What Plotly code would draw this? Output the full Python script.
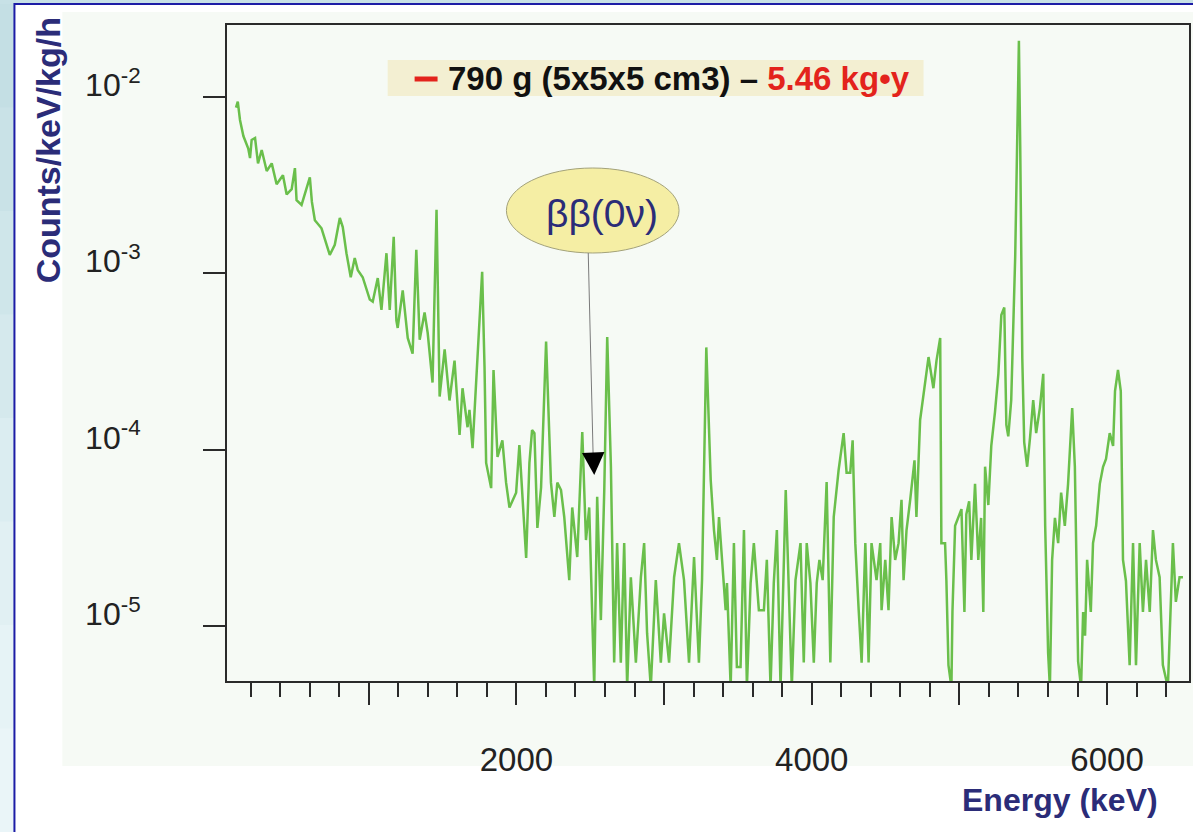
import plotly.graph_objects as go

# ---------------- data ----------------
energy_kev = [
    101, 113, 128, 151, 184, 196, 207, 230, 250, 275,
    309, 343, 376, 419, 444, 478, 500, 511, 545, 568,
    601, 615, 635, 680, 736, 770, 804, 824, 849, 878,
    905, 926, 959, 1007, 1027, 1061, 1086, 1120, 1142, 1169,
    1187, 1196, 1230, 1264, 1297, 1322, 1345, 1378, 1399, 1432,
    1459, 1480, 1514, 1547, 1581, 1615, 1635, 1669, 1682, 1703,
    1736, 1768, 1784, 1795, 1829, 1845, 1872, 1905, 1930, 1953,
    1998, 2020, 2066, 2088, 2106, 2122, 2142, 2167, 2201, 2234,
    2257, 2277, 2302, 2324, 2358, 2378, 2412, 2437, 2446, 2471,
    2493, 2527, 2547, 2572, 2595, 2615, 2640, 2662, 2682, 2707,
    2730, 2750, 2775, 2809, 2843, 2865, 2885, 2910, 2944, 2978,
    3000, 3034, 3068, 3101, 3135, 3169, 3203, 3236, 3257, 3286,
    3316, 3338, 3358, 3372, 3392, 3417, 3426, 3451, 3473, 3493,
    3518, 3541, 3561, 3586, 3608, 3642, 3676, 3696, 3721, 3743,
    3764, 3789, 3824, 3845, 3865, 3890, 3924, 3946, 3966, 3991,
    4014, 4034, 4052, 4074, 4101, 4126, 4149, 4182, 4216, 4236,
    4261, 4277, 4295, 4318, 4338, 4363, 4385, 4405, 4439, 4464,
    4473, 4498, 4520, 4541, 4565, 4588, 4608, 4622, 4642, 4667,
    4696, 4709, 4734, 4791, 4824, 4845, 4870, 4878, 4903, 4912,
    4926, 4946, 4953, 4971, 4993, 5014, 5034, 5047, 5066, 5081,
    5106, 5128, 5147, 5162, 5174, 5196, 5216, 5241, 5264, 5284,
    5304, 5318, 5331, 5351, 5378, 5392, 5403, 5412, 5426, 5439,
    5459, 5478, 5500, 5520, 5545, 5568, 5581, 5601, 5613, 5628,
    5647, 5669, 5689, 5714, 5736, 5764, 5782, 5804, 5824, 5838,
    5851, 5865, 5890, 5905, 5926, 5951, 5973, 5993, 6018, 6041,
    6054, 6074, 6093, 6108, 6128, 6153, 6176, 6196, 6221, 6243,
    6264, 6289, 6311, 6331, 6356, 6378, 6412, 6446, 6466, 6491,
    6514,
]

counts = [
    8.7e-3, 9.4e-3, 7.4e-3, 6.0e-3, 5.1e-3, 4.5e-3, 5.7e-3, 5.85e-3, 4.2e-3, 5.0e-3,
    3.8e-3, 4.2e-3, 3.2e-3, 3.6e-3, 2.8e-3, 3.0e-3, 3.95e-3, 2.6e-3, 2.44e-3, 2.85e-3,
    3.5e-3, 2.54e-3, 2.0e-3, 1.8e-3, 1.27e-3, 1.45e-3, 2.06e-3, 1.83e-3, 1.30e-3, 9.5e-4,
    1.22e-3, 1.04e-3, 9.5e-4, 7.1e-4, 6.9e-4, 9.4e-4, 6.2e-4, 1.30e-3, 6.2e-4, 1.61e-3,
    5.4e-4, 4.9e-4, 8.0e-4, 4.3e-4, 3.5e-4, 1.36e-3, 4.2e-4, 6.0e-4, 4.6e-4, 2.4e-4,
    2.29e-3, 2.0e-4, 3.7e-4, 1.9e-4, 3.2e-4, 1.21e-4, 2.23e-4, 1.34e-4, 1.68e-4, 1.02e-4,
    3.2e-4, 1.02e-3, 2.94e-4, 8.4e-5, 6.05e-5, 2.83e-4, 9.1e-5, 1.13e-4, 6.5e-5, 4.7e-5,
    5.7e-5, 1.06e-4, 2.43e-5, 8.4e-5, 1.29e-4, 1.24e-4, 3.6e-5, 6.1e-5, 4.1e-4, 6.5e-5,
    4.15e-5, 6.5e-5, 5.9e-5, 4.15e-5, 1.82e-5, 4.7e-5, 2.46e-5, 8.4e-5, 1.26e-4, 3.07e-5,
    4.7e-5, 4.5e-6, 5.4e-5, 1.08e-5, 5.9e-5, 4.35e-4, 8.0e-5, 6.2e-6, 2.95e-5, 6.2e-6,
    2.95e-5, 4.5e-6, 1.89e-5, 6.2e-6, 1.89e-5, 2.95e-5, 9.1e-6, 4.5e-6, 1.82e-5, 6.2e-6,
    1.18e-5, 6.2e-6, 1.89e-5, 2.95e-5, 1.82e-5, 6.2e-6, 2.46e-5, 6.2e-6, 1.82e-5, 3.8e-4,
    6.7e-5, 3.5e-5, 2.37e-5, 4.15e-5, 2.37e-5, 1.23e-5, 1.75e-5, 4.5e-6, 2.95e-5, 5.85e-6,
    5.85e-6, 3.5e-5, 4.5e-6, 1.75e-5, 2.95e-5, 1.23e-5, 1.23e-5, 2.37e-5, 4.5e-6, 1.75e-5,
    3.5e-5, 4.5e-6, 5.9e-5, 1.82e-5, 4.5e-6, 1.82e-5, 2.95e-5, 6.2e-6, 2.95e-5, 1.75e-5,
    6.2e-6, 1.75e-5, 2.37e-5, 1.82e-5, 6.55e-5, 6.2e-6, 4.15e-5, 7.65e-5, 1.24e-4, 7.4e-5,
    7.4e-5, 1.13e-4, 2.95e-5, 1.23e-5, 6.2e-6, 2.95e-5, 6.2e-6, 2.95e-5, 1.82e-5, 2.95e-5,
    1.23e-5, 2.37e-5, 1.23e-5, 4.15e-5, 2.37e-5, 2.95e-5, 5.2e-5, 1.82e-5, 3.5e-5, 5.2e-5,
    8.7e-5, 4.15e-5, 1.47e-4, 3.35e-4, 2.23e-4, 3.2e-4, 4.3e-4, 2.95e-5, 2.95e-5, 1.8e-5,
    6.0e-6, 4.5e-6, 1.2e-5, 3.7e-5, 4.1e-5, 4.6e-5, 1.2e-5, 4.3e-5, 5.1e-5, 2.37e-5,
    6.4e-5, 2.37e-5, 4.1e-5, 1.2e-5, 8.0e-5, 4.85e-5, 1.05e-4, 1.63e-4, 2.69e-4, 5.8e-4,
    6.4e-4, 1.38e-4, 1.19e-4, 1.91e-4, 1.25e-3, 8.1e-3, 2.08e-2, 5.2e-3, 3.3e-4, 1.10e-4,
    8.0e-5, 1.16e-4, 1.91e-4, 1.24e-4, 1.72e-4, 2.69e-4, 3.7e-5, 7.0e-6, 4.5e-6, 2.37e-5,
    4.1e-5, 2.95e-5, 5.7e-5, 3.7e-5, 6.4e-5, 1.72e-4, 8.0e-5, 6.3e-6, 4.5e-6, 1.2e-5,
    8.8e-6, 2.37e-5, 1.2e-5, 2.95e-5, 3.7e-5, 6.4e-5, 8.0e-5, 8.85e-5, 1.24e-4, 1.05e-4,
    2.15e-4, 2.83e-4, 2.15e-4, 2.37e-5, 1.8e-5, 6.0e-6, 2.95e-5, 6.0e-6, 2.95e-5, 1.2e-5,
    2.37e-5, 1.2e-5, 3.5e-5, 2.37e-5, 1.89e-5, 6.0e-6, 4.5e-6, 2.95e-5, 1.37e-5, 1.89e-5,
    1.89e-5,
]

x_tick_values = [1000, 2000, 3000, 4000, 5000, 6000]
x_tick_labels = ["", "2000", "", "4000", "", "6000"]
y_tick_values = [1e-5, 1e-4, 1e-3, 1e-2]
y_tick_labels = ["10<sup>-5</sup>", "10<sup>-4</sup>", "10<sup>-3</sup>", "10<sup>-2</sup>"]

legend_text = ("<b>790 g (5x5x5 cm3) \u2013 "
               "<span style='color:#e3231c'>5.46 kg\u2022y</span></b>")
peak_label = "\u03b2\u03b2(0\u03bd)"
x_title = "Energy (keV)"
y_title = "Counts/keV/kg/h"

# ---------------- figure ----------------
W, H = 1193, 832
ML, MR, MT, MB = 227, 2, 25, 151
PW, PH = W - ML - MR, H - MT - MB


def px(xpix):
    return (xpix - ML) / PW


def py(ypix):
    return (H - MB - ypix) / PH


FONT = "Liberation Sans, Arial, Helvetica, sans-serif"
NAVY = "#2b2c78"
AXC = "#2a2a2a"

fig = go.Figure(
    go.Scatter(
        x=energy_kev, y=counts, mode="lines",
        line=dict(color="#6abf4b", width=2.5),
        hoverinfo="skip", showlegend=False,
    )
)

shapes = []
# left strip gradient of the page background
strip_cols = ["#c4dfe4", "#c9e2e7", "#cfe6ea", "#d5e9ed", "#dbedf1", "#e1f0f3", "#e6f3f6", "#eaf5f8"]
n = len(strip_cols)
for i, c in enumerate(strip_cols):
    shapes.append(dict(type="rect", xref="paper", yref="paper",
                       x0=px(-5), x1=px(14), y0=py(4 + (H - 4) * (i + 1) / n + 1), y1=py(4 + (H - 4) * i / n),
                       fillcolor=c, line=dict(width=0), layer="below"))
# white panel with blue border
shapes.append(dict(type="rect", xref="paper", yref="paper",
                   x0=px(14), x1=px(W + 10), y0=py(H + 10), y1=py(4),
                   fillcolor="#ffffff", line=dict(color="#1c1ca6", width=2), layer="below"))
# light graph area
shapes.append(dict(type="rect", xref="paper", yref="paper",
                   x0=px(62), x1=px(W + 10), y0=py(766), y1=py(12),
                   fillcolor="#f6faf5", line=dict(width=0), layer="below"))
# legend box
shapes.append(dict(type="rect", xref="paper", yref="paper",
                   x0=px(388), x1=px(925), y0=py(96), y1=py(60),
                   fillcolor="#f3efd2", line=dict(width=0), layer="above"))
# legend line sample (red dash)
shapes.append(dict(type="line", xref="paper", yref="paper",
                   x0=px(415), x1=px(438), y0=py(79), y1=py(79),
                   line=dict(color="#e3231c", width=5), layer="above"))
# ellipse
shapes.append(dict(type="circle", xref="paper", yref="paper",
                   x0=px(507), x1=px(680), y0=py(253), y1=py(168),
                   fillcolor="#f5eea4", line=dict(color="#a3a27a", width=1), layer="above"))
# arrow shaft
shapes.append(dict(type="line", xref="paper", yref="paper",
                   x0=px(589), y0=py(253), x1=px(594), y1=py(460),
                   line=dict(color="#7a7a7a", width=1), layer="above"))

annotations = [
    dict(xref="paper", yref="paper", x=px(446), y=py(78), text=legend_text, showarrow=False,
         font=dict(family=FONT, size=33, color="#111111"), xanchor="left", yanchor="middle"),
    dict(xref="paper", yref="paper", x=px(603), y=py(213), text=peak_label, showarrow=False,
         font=dict(family=FONT, size=39, color=NAVY), xanchor="center", yanchor="middle"),
    dict(xref="paper", yref="paper", x=px(595), y=py(475), text="", showarrow=True,
         ax=-1, ay=-22, arrowhead=2, arrowsize=3, arrowwidth=1.5, arrowcolor="#000000"),
    dict(xref="paper", yref="paper", x=px(48), y=py(150), text="<b>" + y_title + "</b>", showarrow=False,
         textangle=-90, font=dict(family=FONT, size=34, color=NAVY), xanchor="center", yanchor="middle"),
    dict(xref="paper", yref="paper", x=px(1062), y=py(800), text="<b>" + x_title + "</b>", showarrow=False,
         font=dict(family=FONT, size=32, color=NAVY), xanchor="center", yanchor="middle"),
]

fig.update_layout(
    width=W, height=H, autosize=False,
    margin=dict(l=ML, r=MR, t=MT, b=MB, pad=0),
    paper_bgcolor="#c7e1e6", plot_bgcolor="#f6faf5",
    shapes=shapes, annotations=annotations, showlegend=False,
    font=dict(family=FONT, color="#222222"),
)

fig.update_xaxes(
    range=[40, 6555], showgrid=False, zeroline=False,
    showline=True, mirror=True, linecolor=AXC, linewidth=2,
    ticks="outside", ticklen=22, tickwidth=2, tickcolor=AXC,
    tickmode="array", tickvals=x_tick_values, ticktext=x_tick_labels,
    tickfont=dict(family=FONT, size=33, color="#222222"), ticklabelstandoff=26,
    minor=dict(dtick=200, tick0=0, ticks="outside", ticklen=14, tickwidth=2, tickcolor=AXC, showgrid=False),
)
fig.update_yaxes(
    type="log", range=[-5.312, -1.592], showgrid=False, zeroline=False,
    showline=True, mirror=True, linecolor=AXC, linewidth=2,
    ticks="outside", ticklen=22, tickwidth=2, tickcolor=AXC,
    tickmode="array", tickvals=y_tick_values, ticktext=y_tick_labels,
    tickfont=dict(family=FONT, size=32, color="#222222"),
    ticklabelstandoff=56, ticklabelshift=-12,
)

fig.write_html("out.html")
